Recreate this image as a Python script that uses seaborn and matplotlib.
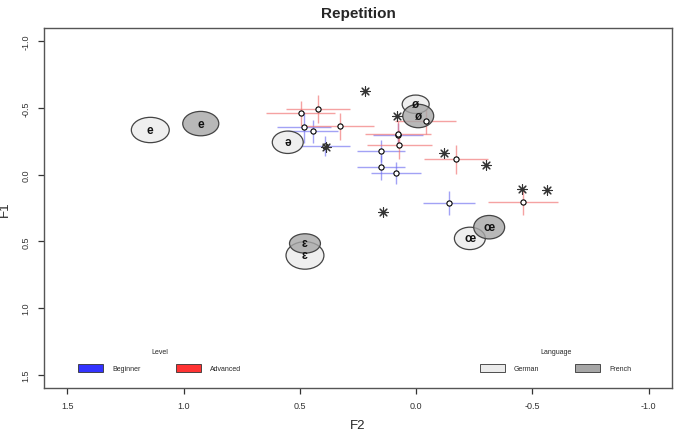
import numpy as np
import pandas as pd
import matplotlib
matplotlib.use('Agg')
import matplotlib.pyplot as plt
import seaborn as sns
from matplotlib.patches import Ellipse, Patch
from matplotlib.colors import to_rgba

# ---- vowel ellipses (native reference, by language) ----
vowel_labels = ['e', 'ə', 'ø', 'ɛ', 'œ', 'e', 'ø', 'ɛ', 'œ']
vowel_lang = ['German', 'German', 'German', 'German', 'German',
              'French', 'French', 'French', 'French']
vowel_f2 = [1.143, 0.552, 0.002, 0.478, -0.231, 0.926, -0.009, 0.478, -0.314]
vowel_f1 = [-0.335, -0.243, -0.528, 0.606, 0.478, -0.383, -0.440, 0.516, 0.394]
vowel_w = [0.163, 0.133, 0.116, 0.163, 0.133, 0.155, 0.133, 0.133, 0.133]
vowel_h = [0.190, 0.168, 0.138, 0.206, 0.168, 0.183, 0.176, 0.145, 0.176]

# ---- learner means with error bars ----
learner_level = ['Beginner'] * 8 + ['Advanced'] * 8
learner_f2 = [0.482, 0.445, 0.392, 0.078, 0.151, 0.153, 0.085, -0.141,
              0.496, 0.421, 0.327, -0.041, 0.079, 0.073, -0.170, -0.460]
learner_f1 = [-0.355, -0.325, -0.216, -0.294, -0.180, -0.054, -0.014, 0.212,
              -0.459, -0.490, -0.363, -0.404, -0.302, -0.226, -0.115, 0.203]
learner_f2_err = [0.118, 0.110, 0.107, 0.107, 0.105, 0.103, 0.107, 0.110,
                  0.149, 0.137, 0.146, 0.130, 0.143, 0.140, 0.137, 0.150]
learner_f1_err = [0.115, 0.084, 0.076, 0.090, 0.082, 0.092, 0.084, 0.092,
                  0.096, 0.105, 0.100, 0.096, 0.100, 0.110, 0.107, 0.103]

# ---- asterisks ----
star_f2 = [0.220, 0.084, 0.387, 0.141, -0.119, -0.300, -0.453, -0.563]
star_f1 = [-0.629, -0.437, -0.205, 0.282, -0.164, -0.070, 0.109, 0.114]

x_ticks = [1.5, 1.0, 0.5, 0.0, -0.5, -1.0]
x_tick_labels = ['1.5', '1.0', '0.5', '0.0', '-0.5', '-1.0']
y_ticks = [-1.0, -0.5, 0.0, 0.5, 1.0, 1.5]
y_tick_labels = ['-1.0', '-0.5', '0.0', '0.5', '1.0', '1.5']

level_colors = {'Beginner': '#3333ff', 'Advanced': '#ff3333'}
bar_colors = {'Beginner': '#7070f0', 'Advanced': '#f07070'}
lang_colors = {'German': '#ebebeb', 'French': '#a6a6a6'}

sns.set_style('white')
plt.rcParams['font.family'] = ['Liberation Sans', 'DejaVu Sans']
plt.rcParams['axes.unicode_minus'] = False

df_learn = pd.DataFrame({'level': learner_level, 'f2': learner_f2, 'f1': learner_f1,
                         'f2_err': learner_f2_err, 'f1_err': learner_f1_err})

fig, ax = plt.subplots(figsize=(6.77, 4.31), dpi=100)
fig.subplots_adjust(left=0.065, right=0.9926, top=0.9327, bottom=0.0975)

# error bars (crosses)
for level in ['Beginner', 'Advanced']:
    sub = df_learn[df_learn['level'] == level]
    ax.errorbar(sub['f2'], sub['f1'], xerr=sub['f2_err'], yerr=sub['f1_err'],
                fmt='none', ecolor=bar_colors[level], alpha=0.65,
                elinewidth=1.0, capsize=0, zorder=1)

# ellipses
for lab, lang, x, y, w, h in zip(vowel_labels, vowel_lang, vowel_f2, vowel_f1, vowel_w, vowel_h):
    ell = Ellipse((x, y), w, h, facecolor=to_rgba(lang_colors[lang], 0.8),
                  edgecolor='#444444', linewidth=0.9, zorder=2)
    ax.add_patch(ell)

# learner points
sns.scatterplot(data=df_learn, x='f2', y='f1', marker='o', s=14, color='white',
                edgecolor='black', linewidth=0.8, zorder=3, legend=False, ax=ax)

# asterisks
sns.scatterplot(x=star_f2, y=star_f1, marker=(8, 2, 0), s=48, color='#333333',
                edgecolor='#333333', linewidth=0.8, zorder=4, legend=False, ax=ax)

for lab, x, y in zip(vowel_labels, vowel_f2, vowel_f1):
    ax.text(x, y, lab, ha='center', va='center', fontsize=8.5, color='#111111',
            fontweight='bold', zorder=5)

ax.set_xlim(1.6, -1.1)
ax.set_ylim(1.6, -1.1)
ax.set_xticks(x_ticks)
ax.set_xticklabels(x_tick_labels)
ax.set_yticks(y_ticks)
ax.set_yticklabels(y_tick_labels, rotation=90, va='center')
ax.tick_params(direction='out', length=4.5, width=0.9, pad=5, labelsize=6.5,
               colors='#333333', bottom=True, left=True)
for sp in ax.spines.values():
    sp.set_color('#555555')
    sp.set_linewidth(1.0)

ax.set_xlabel('F2', fontsize=9.5, labelpad=6)
ax.set_ylabel('F1', fontsize=9.5, labelpad=8)
ax.set_title('Repetition', fontsize=11, fontweight='bold', pad=8)

# legends
level_handles = [Patch(facecolor=level_colors[k], edgecolor='#333333', linewidth=0.6, label=k)
                 for k in ['Beginner', 'Advanced']]
lang_handles = [Patch(facecolor=lang_colors[k], edgecolor='#333333', linewidth=0.6, label=k)
                for k in ['German', 'French']]
leg_kw = dict(ncol=2, frameon=False, fontsize=5, title_fontsize=5, loc='lower left',
              handlelength=3.6, handleheight=1.3, handletextpad=1.3, columnspacing=5.2,
              borderaxespad=0, borderpad=0, labelspacing=1.3)
leg1 = ax.legend(handles=level_handles, title='Level', bbox_to_anchor=(0.054, 0.044), **leg_kw)
ax.add_artist(leg1)
ax.legend(handles=lang_handles, title='Language', bbox_to_anchor=(0.694, 0.044), **leg_kw)

plt.savefig('out.png', dpi=100)
